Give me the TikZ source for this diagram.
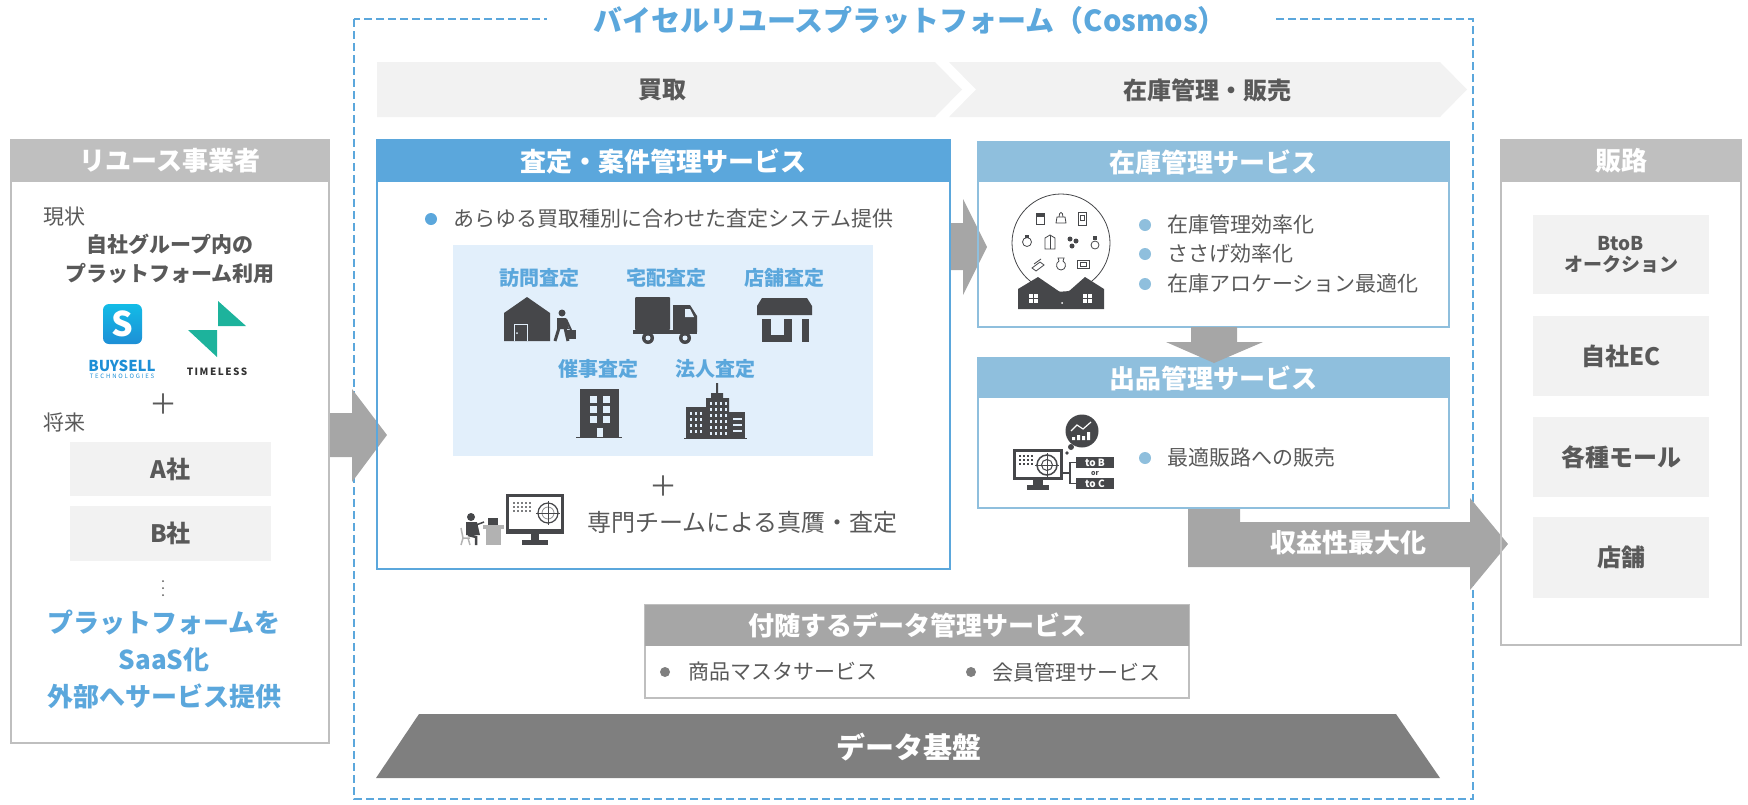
\documentclass[tikz,border=0pt]{standalone}
\usepackage{fontspec}
\setmainfont{Noto Sans CJK JP}
\usetikzlibrary{positioning}

\definecolor{cosmosblue}{HTML}{5BA7DC}
\definecolor{stockblue}{HTML}{8FBFDD}
\definecolor{paleblue}{HTML}{E2EFFB}
\definecolor{headgray}{HTML}{BFBFBF}
\definecolor{arrowgray}{HTML}{A6A6A6}
\definecolor{basegray}{HTML}{7F7F7F}
\definecolor{txtgray}{HTML}{595959}
\definecolor{boxgray}{HTML}{F2F2F2}
\definecolor{icongray}{HTML}{46474A}
\definecolor{tlteal}{HTML}{1DB39C}
\definecolor{bsblue}{HTML}{1E8FD6}

\newcommand{\pxfont}[2]{\fontsize{#1}{#2}\selectfont}

\tikzset{
  panel/.style={draw=headgray, line width=2pt, anchor=north west, inner sep=0pt, outer sep=0pt},
  card/.style={draw=cosmosblue, line width=1.5pt, anchor=north west, inner sep=0pt, outer sep=0pt},
  stockcard/.style={card, draw=stockblue},
  cardhead/.style={fill=#1, text=white, anchor=north, minimum height=42pt, inner sep=0pt, outer sep=0pt, font=\bfseries\pxfont{26}{30}},
  bodytext/.style={text=txtgray, inner sep=0pt, font=\pxfont{21}{26}},
  bulletdot/.style={circle, fill=#1, minimum size=12pt, inner sep=0pt},
  channel/.style={text=cosmosblue, inner sep=0pt, font=\bfseries\pxfont{20}{24}},
  greybox/.style={fill=boxgray, text=txtgray, inner sep=0pt, align=center, font=\bfseries\pxfont{24}{28}},
  blockarrow/.style={fill=arrowgray},
  glyph/.style={fill=icongray},
  itemline/.style={draw=icongray, line width=0.8pt},
}

\begin{document}
\begin{tikzpicture}[x=1pt,y=-1pt]
    \useasboundingbox (0,0) rectangle (1748,804);

    % platform frame with its title
    \draw[cosmosblue, line width=2pt, dash pattern=on 8pt off 4pt] (354,19) rectangle (1473,799);
    \node[fill=white, text=cosmosblue, font=\bfseries\pxfont{29}{29}, inner xsep=46pt, inner ysep=2pt] (cosmos) at (910,20) {バイセルリユースプラットフォーム（Cosmos）};

    % process chevrons
    \fill[boxgray] (377,62) -- (935,62) -- (962,89.5) -- (935,117) -- (377,117) -- cycle;
    \fill[boxgray] (949,62) -- (1440,62) -- (1467,89.5) -- (1440,117) -- (949,117) -- (976,89.5) -- cycle;
    \node[text=txtgray, font=\bfseries\pxfont{24}{24}] (buying) at (662,90) {買取};
    \node[text=txtgray, font=\bfseries\pxfont{24}{24}] (stocksale) at (1207,90) {在庫管理・販売};

    % big gray arrows
    \fill[blockarrow] (330,413) -- (352,413) -- (352,389) -- (387,435) -- (352,482) -- (352,457) -- (330,457) -- cycle;
    \fill[blockarrow] (950,223) -- (963,223) -- (963,199) -- (987,247) -- (963,295) -- (963,270) -- (950,270) -- cycle;
    \fill[blockarrow] (1188,508) -- (1240,508) -- (1240,522) -- (1470,522) -- (1470,498) -- (1508,544) -- (1470,590) -- (1470,567) -- (1188,567) -- cycle;
    \node[text=white, font=\bfseries\pxfont{26}{26}] (profit) at (1348,543) {収益性最大化};

    % ---- reuse businesses ----
    \node[panel, minimum width=318pt, minimum height=603pt] (reuse) at (11,140) {};
    \node[cardhead=headgray, minimum width=318pt] (reusehead) at (reuse.north) {リユース事業者};
    \node[bodytext, anchor=west] (now) at (43,217) {現状};
    \node[bodytext, align=center, font=\bfseries\pxfont{21}{29}] (inhouse) at (170,259) {自社グループ内の\\プラットフォーム利用};

    % group logos
    \shade[top color=bsblue!60!cyan, bottom color=bsblue, rounded corners=6pt] (103,304) rectangle (142,344);
    \node[text=white, font=\bfseries\pxfont{34}{34}, inner sep=0pt] (bslogo) at (122.5,324) {S};
    \node[text=bsblue, font=\bfseries\pxfont{15}{15}, inner sep=0pt] (buysell) at (122,366) {BUYSELL};
    \node[text=bsblue, font=\pxfont{6}{6}\addfontfeature{LetterSpace=30}, inner sep=0pt] (bstech) at (122,376) {TECHNOLOGIES};
    \fill[tlteal] (218,301) -- (246,326) -- (218,326) -- cycle;
    \fill[tlteal] (188,330) -- (217,330) -- (217,357) -- cycle;
    \node[text=black!80, font=\bfseries\pxfont{10}{10}\addfontfeature{LetterSpace=15}, inner sep=0pt] (timeless) at (217,372) {TIMELESS};

    \node[text=txtgray, font=\pxfont{28}{28}, inner sep=0pt] (plusfirm) at (163,404) {＋};
    \node[bodytext, anchor=west] (future) at (43,422) {将来};
    \node[greybox, minimum width=201pt, minimum height=54pt] (firmA) at (170.5,469) {A社};
    \node[greybox, minimum width=201pt, minimum height=55pt] (firmB) at (170.5,533) {B社};
    \foreach \y in {581,588,595}
        \fill[txtgray] (163,\y) circle (1pt);
    \node[text=cosmosblue, align=center, inner sep=0pt, font=\bfseries\pxfont{26}{37}] (saas) at (164,659) {プラットフォームを\\SaaS化\\外部へサービス提供};

    % ---- appraisal and case management ----
    \node[card, minimum width=573pt, minimum height=429pt] (appraise) at (377,140) {};
    \node[cardhead=cosmosblue, minimum width=573pt] (appraisehead) at (appraise.north) {査定・案件管理サービス};
    \node[bulletdot=cosmosblue] (dotall) at (431,219) {};
    \node[bodytext, anchor=west] (alltypes) at (453,219) {あらゆる買取種別に合わせた査定システム提供};

    \node[fill=paleblue, anchor=north west, minimum width=420pt, minimum height=211pt, inner sep=0pt] (channels) at (453,245) {};
    \node[channel] (visit) at (539,278) {訪問査定};
    \node[channel] (delivery) at (666,278) {宅配査定};
    \node[channel] (shop) at (784,278) {店舗査定};
    \node[channel] (event) at (598,369) {催事査定};
    \node[channel] (corporate) at (715,369) {法人査定};

    % house and visitor
    \fill[glyph] (504,341) -- (504,313) -- (527,297) -- (550,313) -- (550,341) -- cycle;
    \draw[paleblue, line width=1pt] (514,341) -- (514,324) -- (527,324) -- (527,341);
    \fill[paleblue] (517,333) circle (1pt);
    \fill[glyph] (562,313) circle (3.5pt);
    \fill[glyph] (557,318) -- (566,318) -- (569,329) -- (557,329) -- cycle;
    \draw[icongray, line width=3pt] (559,328) -- (555,341);
    \draw[icongray, line width=3pt] (565,328) -- (568,341);
    \draw[icongray, line width=2pt] (566,319) -- (571,330);
    \fill[glyph] (567,330) rectangle (576,339);

    % truck
    \fill[glyph, rounded corners=1pt] (635,297) rectangle (670,330);
    \fill[glyph] (673,305) -- (690,305) -- (697,316) -- (697,332) -- (673,332) -- cycle;
    \fill[paleblue] (685,309) -- (690,309) -- (694,317) -- (685,317) -- cycle;
    \fill[glyph] (633,330) rectangle (697,334);
    \foreach \x in {648,685} {
        \fill[glyph] (\x,338) circle (6pt);
        \fill[paleblue] (\x,338) circle (2.5pt);
    }

    % shop front
    \fill[glyph] (762,298) -- (807,298) -- (812,306) -- (812,315) -- (757,315) -- (757,306) -- cycle;
    \fill[glyph] (762,319) rectangle (792,342);
    \fill[paleblue] (771,319) rectangle (784,335);
    \fill[glyph] (802,319) rectangle (809,342);

    % event hall
    \fill[glyph] (580,389) rectangle (619,437);
    \draw[icongray, line width=1pt] (576,437) -- (622,437);
    \foreach \x in {590,603}
        \foreach \y in {396,406,416}
            \fill[paleblue] (\x,\y) rectangle ++(7,7);
    \fill[paleblue] (596.5,428) rectangle (602.5,437);

    % office towers
    \fill[glyph] (706,438) -- (706,398) -- (711,398) -- (711,393) -- (716,393) -- (716,383) -- (718,383) -- (718,393) -- (723,393) -- (723,398) -- (729,398) -- (729,438) -- cycle;
    \fill[glyph] (686,407) rectangle (706,438);
    \fill[glyph] (729,412) rectangle (745,438);
    \foreach \x in {690,695,700}
        \foreach \y in {412,418,...,432}
            \fill[paleblue] (\x,\y) rectangle ++(2,3);
    \foreach \x in {710,715,720,725}
        \foreach \y in {402,408,...,432}
            \fill[paleblue] (\x,\y) rectangle ++(2,3);
    \foreach \y in {418,424,430}
        \fill[paleblue] (733,\y) rectangle ++(9,1.5);
    \draw[icongray, line width=1pt] (684,438) -- (747,438);

    \node[text=txtgray, font=\pxfont{28}{28}, inner sep=0pt] (plusteam) at (663,486) {＋};

    % expert at desk with monitor
    \fill[glyph] (506,494) rectangle (564,534);
    \fill[white] (509,497) rectangle (561,529);
    \fill[glyph] (531,534) rectangle (539,540);
    \fill[glyph] (522,540) rectangle (548,545);
    \foreach \x in {513,517,...,529}
        \foreach \y in {502,506,510}
            \fill[icongray!70] (\x,\y) rectangle ++(2,2);
    \draw[icongray, line width=1.2pt] (548,513) circle (10pt);
    \draw[icongray!60, line width=0.8pt] (548,513) circle (6pt);
    \draw[icongray, line width=0.6pt] (548,501) -- (548,525) (536,513) -- (560,513);
    \fill[gray!60] (483,525) rectangle (504,529);
    \fill[gray!60] (486,529) rectangle (501,545);
    \fill[glyph] (488,518) rectangle (498,525);
    \fill[glyph] (471,517) circle (4pt);
    \fill[glyph] (466,522) -- (477,522) -- (480,535) -- (466,535) -- cycle;
    \draw[icongray, line width=2.5pt] (468,535) -- (476,537) -- (476,545);
    \draw[icongray, line width=1.5pt] (476,525) -- (484,522);
    \draw[gray!60, line width=1.5pt] (461,528) -- (463,538) -- (470,538) (463,538) -- (461,545) (468,538) -- (470,545);
    \node[bodytext, anchor=west, font=\pxfont{24}{24}] (experts) at (587,522) {専門チームによる真贋・査定};

    % ---- stock management ----
    \node[stockcard, minimum width=471pt, minimum height=185pt] (stock) at (978,142) {};
    \node[cardhead=stockblue, minimum width=471pt, minimum height=40pt] (stockhead) at (stock.north) {在庫管理サービス};

    % warehouse globe
    \draw[icongray, line width=0.8pt] (1061,243) circle (49pt);
    \draw[itemline] (1036,213) rectangle (1044,224);
    \fill[glyph] (1036,213) rectangle (1044,217);
    \draw[itemline] (1056,223) -- (1057,217) -- (1065,217) -- (1066,223) -- cycle;
    \draw[itemline] (1059,217) .. controls (1059,211) and (1063,211) .. (1063,217);
    \draw[itemline] (1078,212) rectangle (1086,225);
    \draw[itemline] (1080,215) rectangle (1084,220);
    \draw[itemline] (1027,242) circle (4.5pt);
    \fill[glyph] (1025,235) rectangle (1029,238);
    \draw[itemline] (1045,249) -- (1045,238) -- (1050,235) -- (1055,238) -- (1055,249) -- cycle;
    \draw[itemline] (1050,235) -- (1050,249);
    \foreach \p in {(1070,239),(1076,241),(1072,246)}
        \fill[glyph] \p circle (2.5pt);
    \draw[itemline] (1095,245) circle (4pt);
    \fill[glyph] (1093,236) rectangle (1097,240);
    \draw[itemline] (1032,268) -- (1040,262) -- (1044,265) -- (1036,271) -- cycle;
    \draw[itemline] (1034,264) -- (1041,259);
    \draw[itemline] (1058,258) -- (1064,258) -- (1063,261) .. controls (1067,263) and (1066,270) .. (1061,270) .. controls (1056,270) and (1055,263) .. (1059,261) -- cycle;
    \draw[itemline] (1077,260) rectangle (1089,268);
    \draw[itemline] (1080,262) rectangle (1086,266);
    \fill[glyph] (1018,309) -- (1018,289) -- (1038,277) -- (1060,292) -- (1068,292) -- (1085,277) -- (1104,289) -- (1104,309) -- cycle;
    \foreach \cx in {1033,1087} {
        \fill[white] ({\cx-4.5},294) rectangle ++(4,4);
        \fill[white] ({\cx+0.5},294) rectangle ++(4,4);
        \fill[white] ({\cx-4.5},299) rectangle ++(4,4);
        \fill[white] ({\cx+0.5},299) rectangle ++(4,4);
    }
    \fill[white] (1062,303) circle (1pt);

    \node[bulletdot=stockblue] (dotstock1) at (1145,225) {};
    \node[bulletdot=stockblue] (dotstock2) at (1145,254) {};
    \node[bulletdot=stockblue] (dotstock3) at (1145,284) {};
    \node[bodytext, anchor=west] (stockeff) at (1167,225) {在庫管理効率化};
    \node[bodytext, anchor=west] (sasage) at (1167,254) {ささげ効率化};
    \node[bodytext, anchor=west] (alloc) at (1167,284) {在庫アロケーション最適化};

    % ---- listing management ----
    \node[stockcard, minimum width=471pt, minimum height=150pt] (listing) at (978,358) {};
    \node[cardhead=stockblue, minimum width=471pt, minimum height=40pt] (listinghead) at (listing.north) {出品管理サービス};
    \fill[blockarrow] (1191,327) -- (1237,327) -- (1237,342) -- (1263,342) -- (1214,363) -- (1166,342) -- (1191,342) -- cycle;

    % monitor with sales chart and channels
    \fill[glyph] (1082,431) circle (16.5pt);
    \fill[white] (1072,437) rectangle ++(3,3) (1077,435) rectangle ++(3,5) (1082,436) rectangle ++(3,4) (1087,432) rectangle ++(3,8);
    \draw[white, line width=1.2pt] (1071,431) -- (1077,425) -- (1083,429) -- (1091,422);
    \fill[glyph] (1071,447) circle (3pt);
    \fill[glyph] (1067,453) circle (1.8pt);
    \fill[glyph] (1013,449) rectangle (1063,480);
    \fill[white] (1016,452) rectangle (1060,477);
    \fill[glyph] (1033,480) rectangle (1043,485);
    \fill[glyph] (1027,485) rectangle (1049,490);
    \foreach \x in {1019,1023,...,1031}
        \foreach \y in {455,459,463}
            \fill[glyph] (\x,\y) rectangle ++(2,2);
    \draw[icongray, line width=1.5pt] (1047,465) circle (10pt);
    \draw[icongray, line width=1pt] (1047,465) circle (5.5pt);
    \draw[icongray, line width=0.6pt] (1047,453) -- (1047,477) (1035,465) -- (1059,465);
    \node[fill=icongray, text=white, font=\bfseries\pxfont{10}{10}, minimum width=38pt, minimum height=11pt, inner sep=0pt] (toB) at (1095,462.5) {to B};
    \node[fill=icongray, text=white, font=\bfseries\pxfont{10}{10}, minimum width=38pt, minimum height=11pt, inner sep=0pt] (toC) at (1095,483.5) {to C};
    \node[text=icongray, font=\bfseries\pxfont{7}{7}, inner sep=0pt] (ororor) at (1095,473) {or};
    \coordinate (split) at (1070,473);
    \draw[icongray, line width=1.2pt] (1063,473) -- (split);
    \draw[icongray, line width=1.2pt] (toB.west) -| (split) |- (toC.west);

    \node[bulletdot=stockblue] (dotlist) at (1145,458) {};
    \node[bodytext, anchor=west] (bestroute) at (1167,458) {最適販路への販売};

    % ---- sales channels ----
    \node[panel, minimum width=240pt, minimum height=505pt] (outlets) at (1501,140) {};
    \node[cardhead=headgray, minimum width=240pt] (outletshead) at (outlets.north) {販路};
    \node[greybox, minimum width=176pt, minimum height=79pt, font=\bfseries\pxfont{19}{21}] (auction) at (1621,254.5) {BtoB\\オークション};
    \node[greybox, minimum width=176pt, minimum height=80pt] (ownec) at (1621,356) {自社EC};
    \node[greybox, minimum width=176pt, minimum height=80pt] (malls) at (1621,457) {各種モール};
    \node[greybox, minimum width=176pt, minimum height=81pt] (stores) at (1621,557.5) {店舗};

    % ---- data services and base ----
    \node[draw=headgray, line width=1.5pt, anchor=north west, minimum width=544pt, minimum height=93pt, inner sep=0pt, outer sep=0pt] (datasvc) at (645,605) {};
    \node[cardhead=arrowgray, minimum width=544pt, minimum height=41pt] (datasvchead) at (datasvc.north) {付随するデータ管理サービス};
    \node[bulletdot=basegray, minimum size=10pt] (dotmaster) at (665,672) {};
    \node[bodytext, anchor=west] (master) at (688,672) {商品マスタサービス};
    \node[bulletdot=basegray, minimum size=10pt] (dotmember) at (971,672) {};
    \node[bodytext, anchor=west] (member) at (992,672) {会員管理サービス};

    \fill[basegray] (419,714) -- (1396,714) -- (1440,778) -- (376,778) -- cycle;
    \node[text=white, font=\bfseries\pxfont{29}{29}] (database) at (909,747) {データ基盤};
\end{tikzpicture}
\end{document}
